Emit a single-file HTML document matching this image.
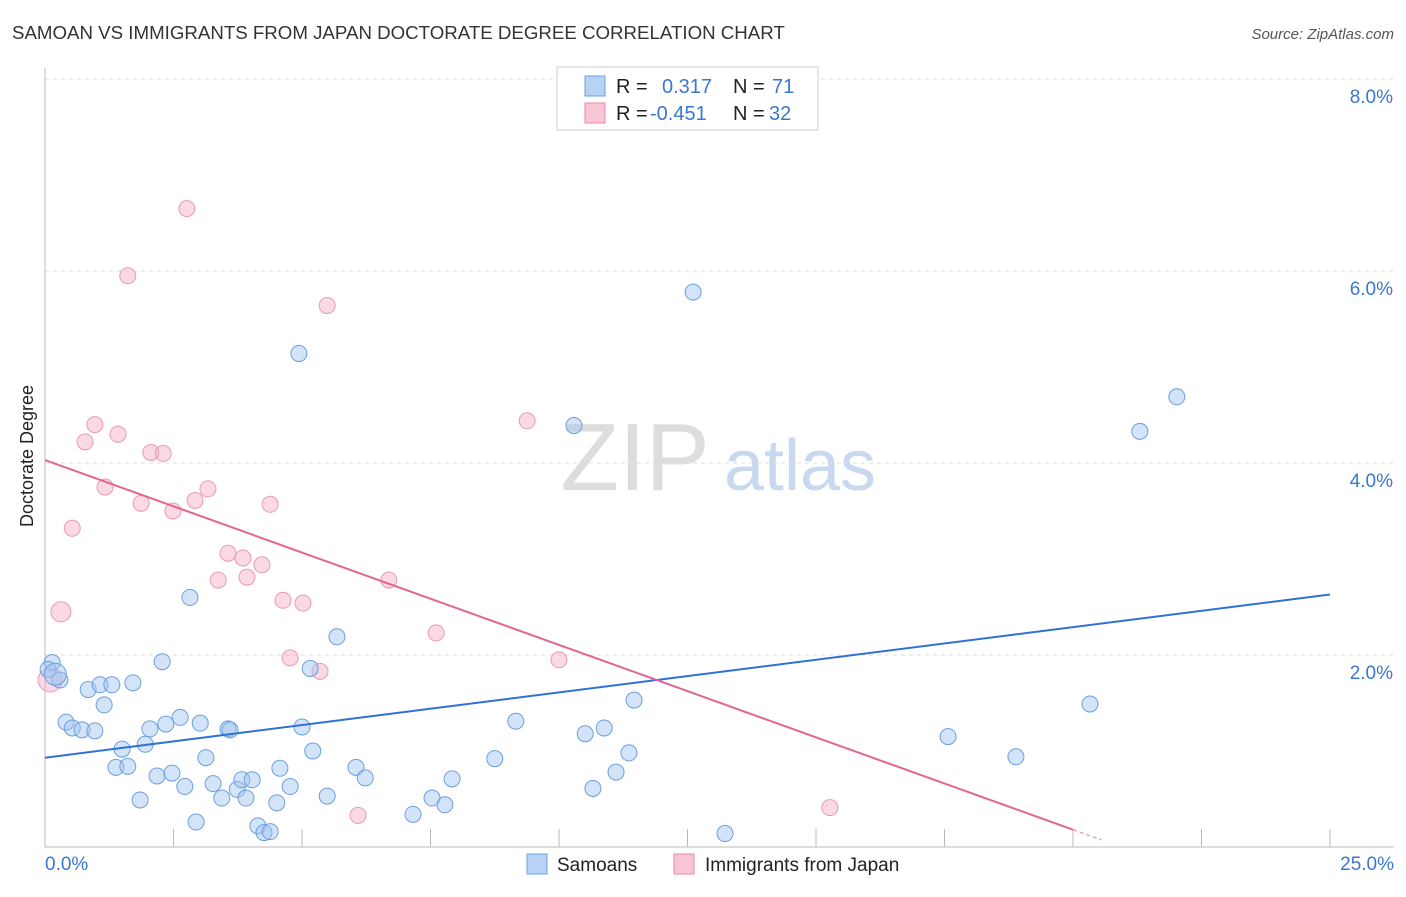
<!DOCTYPE html>
<html><head><meta charset="utf-8">
<style>
body{margin:0;background:#fff;font-family:"Liberation Sans",sans-serif;}
svg text{font-family:"Liberation Sans",sans-serif;}
</style></head>
<body>
<svg id="chart" width="1406" height="892" xmlns="http://www.w3.org/2000/svg">
<text x="12" y="39" font-size="18.7" fill="#333">SAMOAN VS IMMIGRANTS FROM JAPAN DOCTORATE DEGREE CORRELATION CHART</text>
<text x="1394" y="39" font-size="15" fill="#555" text-anchor="end" font-style="italic">Source: ZipAtlas.com</text>
<text transform="translate(33,456) rotate(-90)" font-size="18" fill="#222" text-anchor="middle">Doctorate Degree</text>
<g>
<text x="635" y="490" font-size="96" fill="#ddd" text-anchor="middle" font-family="Liberation Serif">ZIP</text>
<text x="800" y="490" font-size="72" fill="#c8d9ef" text-anchor="middle">atlas</text>
</g>
<g id="grid"></g><g id="pts"></g><g id="lines"></g>
<g>
<rect x="557" y="67" width="261" height="63" fill="#fff" stroke="#ccc"/>
<rect x="585" y="76" width="20" height="20" fill="#b8d2f5" stroke="#6a9fe0"/>
<text x="616" y="93" font-size="20" fill="#222">R = </text><text x="662" y="93" font-size="20" fill="#3a78d0">0.317</text>
<text x="733" y="93" font-size="20" fill="#222">N = </text><text x="772" y="93" font-size="20" fill="#3a78d0">71</text>
<rect x="585" y="103" width="20" height="20" fill="#f9c6d6" stroke="#e888a8"/>
<text x="616" y="120" font-size="20" fill="#222">R = </text><text x="650" y="120" font-size="20" fill="#3a78d0">-0.451</text>
<text x="733" y="120" font-size="20" fill="#222">N = </text><text x="769" y="120" font-size="20" fill="#3a78d0">32</text>
</g>
<g>
<rect x="527" y="854" width="20" height="20" fill="#b8d2f5" stroke="#6a9fe0"/>
<text x="557" y="871" font-size="19" fill="#222">Samoans</text>
<rect x="674" y="854" width="20" height="20" fill="#f9c6d6" stroke="#e888a8"/>
<text x="705" y="871" font-size="19" fill="#222">Immigrants from Japan</text>
</g>
</svg>
<script>
const yTicks=[2,4,6,8];
const xTickLabels=["0.0%","25.0%"];
const blueX=[0.14,0.06,0.29,0.84,1.07,1.30,1.71,1.15,0.41,0.53,0.72,0.97,2.28,2.82,4.94,12.61,22.02,21.30,10.29,5.68,5.16,2.63,2.35,2.04,3.02,3.56,1.50,1.95,3.13,1.38,1.61,2.18,2.47,2.72,1.85,2.94,3.27,3.44,3.74,3.83,4.03,3.91,4.57,4.77,4.51,4.14,4.26,4.38,5.00,5.21,5.49,6.05,6.23,7.16,7.53,7.78,7.92,8.75,9.16,10.51,10.88,11.46,11.36,11.11,10.66,13.23,17.57,18.89,20.33,3.60,0.20];
const blueY=[1.92,1.85,1.74,1.64,1.69,1.69,1.71,1.48,1.30,1.24,1.22,1.21,1.93,2.60,5.14,5.78,4.69,4.33,4.39,2.19,1.86,1.35,1.28,1.23,1.29,1.23,1.02,1.07,0.93,0.83,0.84,0.74,0.77,0.63,0.49,0.26,0.66,0.51,0.60,0.70,0.70,0.51,0.82,0.63,0.46,0.22,0.15,0.16,1.25,1.00,0.53,0.83,0.72,0.34,0.51,0.44,0.71,0.92,1.31,1.18,1.24,1.53,0.98,0.78,0.61,0.14,1.15,0.94,1.49,1.22,1.80];
const pinkX=[2.76,1.61,5.49,9.38,0.97,1.42,0.78,2.06,2.30,1.17,0.53,1.87,2.49,2.92,3.17,4.38,3.56,3.85,3.37,3.93,4.22,6.69,4.63,5.02,0.31,7.61,4.77,5.35,10.00,15.27,6.09,0.10];
const pinkY=[6.65,5.95,5.64,4.44,4.40,4.30,4.22,4.11,4.10,3.75,3.32,3.58,3.50,3.61,3.73,3.57,3.06,3.01,2.78,2.81,2.94,2.78,2.57,2.54,2.45,2.23,1.97,1.83,1.95,0.41,0.33,1.74];
const blueTrend=[0.93,2.63];
const pinkTrend=[4.03,0.18,20.0];
const X=v=>45+v*51.4, Y=v=>847-v*96;
const NS="http://www.w3.org/2000/svg";
function mk(tag,attrs,parent){const e=document.createElementNS(NS,tag);for(const k in attrs)e.setAttribute(k,attrs[k]);parent.appendChild(e);return e;}
const grid=document.getElementById('grid');
for(const t of yTicks){
 const l=mk('line',{x1:45,x2:1394,y1:Y(t),y2:Y(t),stroke:'#ddd','stroke-dasharray':'4,4'},grid);
 
 
 const tx=mk('text',{x:1393,y:Y(t)+24,'font-size':19,fill:'#3a78d0','text-anchor':'end'},grid);
 tx.textContent=t.toFixed(1)+'%';
 
 
}
mk('line',{x1:45,x2:45,y1:68,y2:847,stroke:'#bbb'},grid);
mk('line',{x1:45,x2:1394,y1:847,y2:847,stroke:'#bbb'},grid);
for(let i=0;i<=10;i++){
 const t=mk('line',{x1:X(i*2.5),x2:X(i*2.5),y1:829,y2:847,stroke:'#bbb'},grid);
 
 
}
const xl0=mk('text',{x:45,y:870,'font-size':19,fill:'#3a78d0'},grid);xl0.textContent=xTickLabels[0];


const xl1=mk('text',{x:1394,y:870,'font-size':19,fill:'#3a78d0','text-anchor':'end'},grid);xl1.textContent=xTickLabels[1];


const pts=document.getElementById('pts');
pinkX.forEach((v,i)=>{
 const r=i===31?12:(i===24?10:8);
 const c=mk('circle',{cx:X(v),cy:Y(pinkY[i]),r:r,fill:'rgba(245,170,196,0.45)',stroke:'#e99ab5','stroke-width':1},pts);
 
 
});
blueX.forEach((v,i)=>{
 const r=i===70?11:8;
 const c=mk('circle',{cx:X(v),cy:Y(blueY[i]),r:r,fill:'rgba(160,195,240,0.45)',stroke:'#6a9fe0','stroke-width':1},pts);
 
 
});
const lines=document.getElementById('lines');
const bl=mk('line',{x1:X(0),y1:Y(blueTrend[0]),x2:X(25),y2:Y(blueTrend[1]),stroke:'#2f72d6','stroke-width':2},lines);


const pl=mk('line',{x1:X(0),y1:Y(pinkTrend[0]),x2:X(pinkTrend[2]),y2:Y(pinkTrend[1]),stroke:'#e26690','stroke-width':2},lines);


const slope=(pinkTrend[1]-pinkTrend[0])/pinkTrend[2];
const pd=mk('line',{x1:X(pinkTrend[2]),y1:Y(pinkTrend[1]),x2:X(pinkTrend[2]+0.55),y2:Y(pinkTrend[1]+slope*0.55),stroke:'#e8a0b8','stroke-width':1.5,'stroke-dasharray':'4,3'},lines);


</script>
</body></html>
